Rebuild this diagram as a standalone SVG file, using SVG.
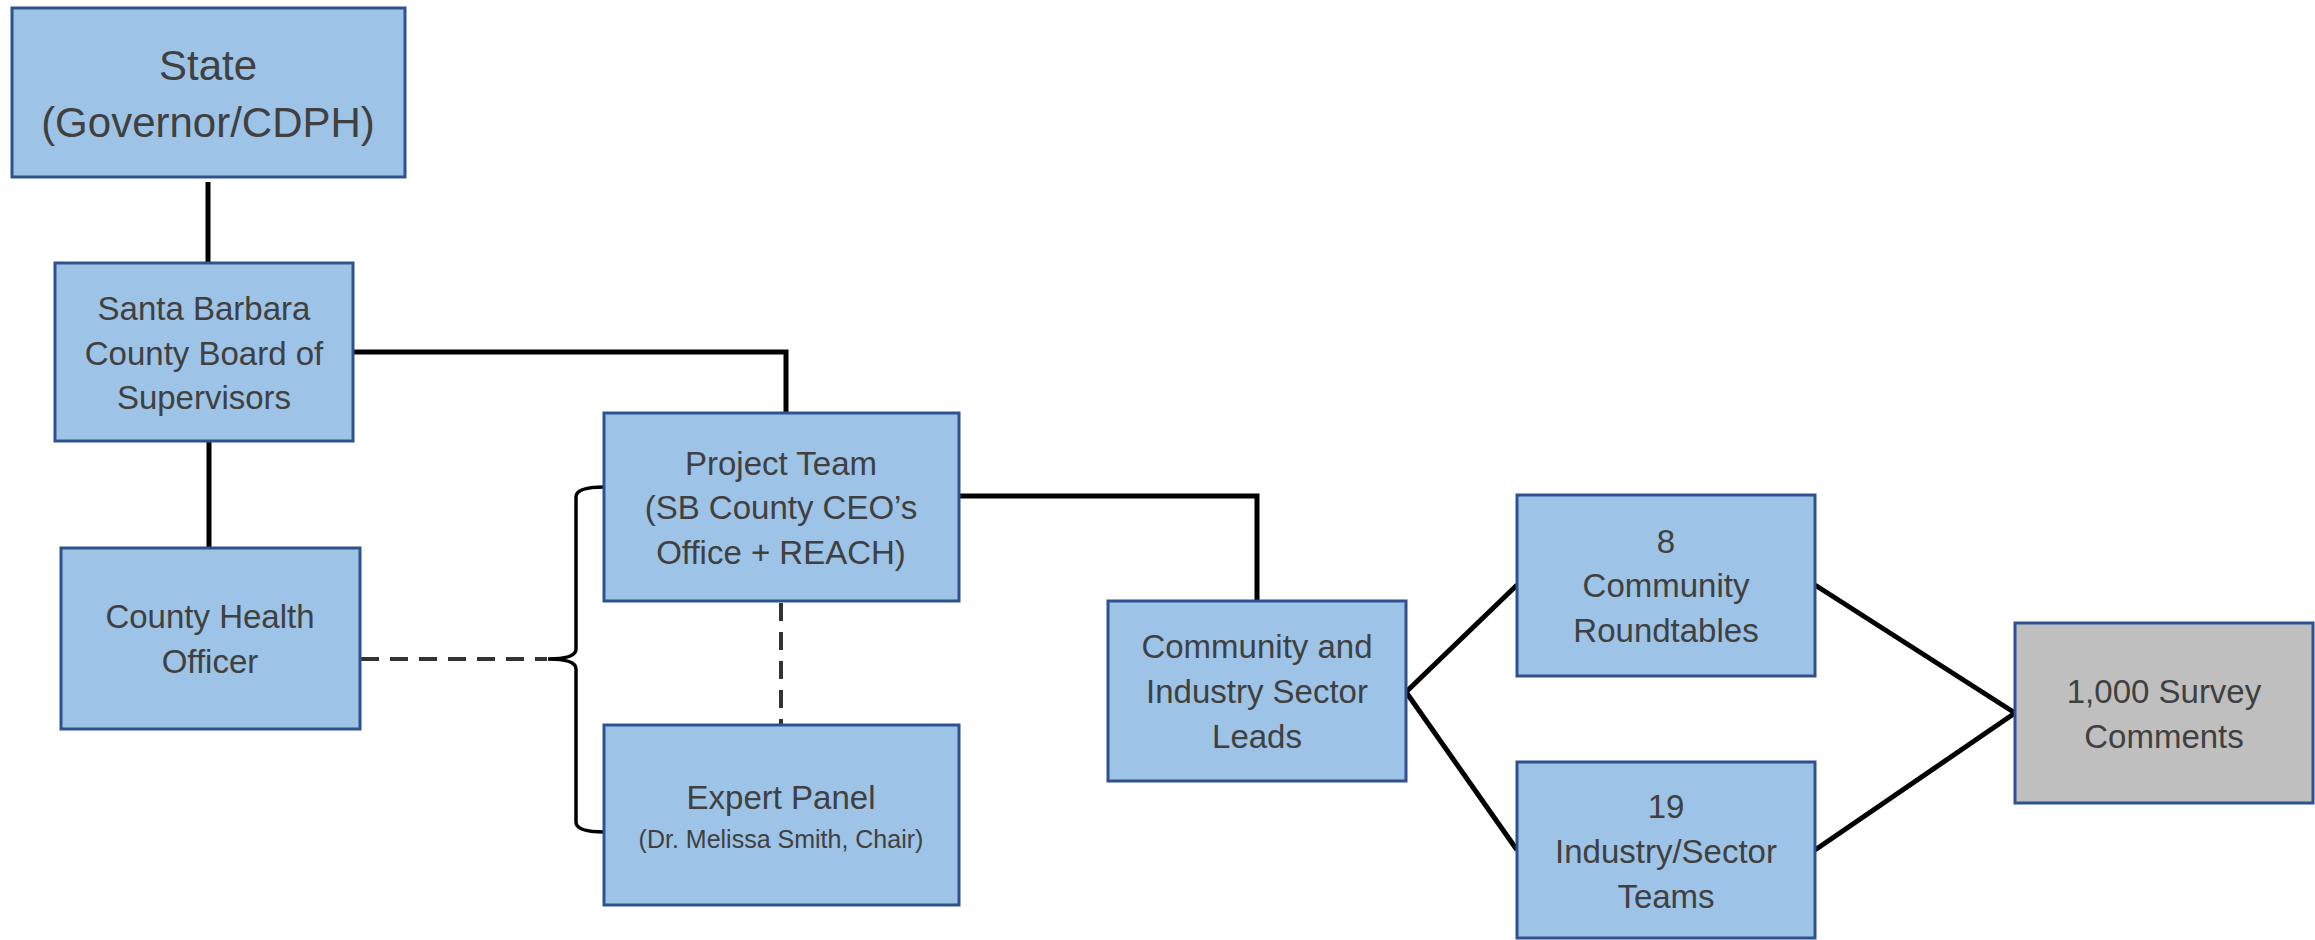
<svg xmlns="http://www.w3.org/2000/svg" width="2315" height="940" viewBox="0 0 2315 940">
<style>
.box{fill:#9dc3e6;stroke:#2f528f;stroke-width:3}
.grey{fill:#bfbfbf;stroke:#2f528f;stroke-width:3}
text{font-family:"Liberation Sans",Arial,sans-serif;fill:#404040;text-anchor:middle;font-size:33px}
.big{font-size:42px}
.small{font-size:25px}
.solid{fill:none;stroke:#000;stroke-width:5}
.dash{fill:none;stroke:#333;stroke-width:4;stroke-dasharray:18,11}
.brace{fill:none;stroke:#000;stroke-width:3.5}
</style>
<rect width="2315" height="940" fill="#fff"/>
<g id="connectors">
<path class="solid" d="M208,182 V263"/>
<path class="solid" d="M209,441 V548"/>
<path class="solid" d="M354,352 H786 V413"/>
<path class="solid" d="M959,496 H1257 V601"/>
<path class="solid" d="M1406,692 L1517,585"/>
<path class="solid" d="M1406,692 L1517,850"/>
<path class="solid" d="M1815,585 L2015,713"/>
<path class="solid" d="M1815,850 L2015,713"/>
<path class="dash" d="M781,603 V725"/>
<path class="dash" d="M361,659 H547"/>
<path class="brace" d="M604,487 Q576,487 576,497 V649 Q576,659 548,659 Q576,659 576,669 V822 Q576,832 604,832"/>
</g>
<g id="state">
<rect class="box" x="12" y="8" width="393" height="169"/>
<text class="big" x="208" y="80">State</text>
<text class="big" x="208" y="137">(Governor/CDPH)</text>
</g>
<g id="board">
<rect class="box" x="55" y="263" width="298" height="178"/>
<text x="204" y="320">Santa Barbara</text>
<text x="204" y="365">County Board of</text>
<text x="204" y="409">Supervisors</text>
</g>
<g id="health-officer">
<rect class="box" x="61" y="548" width="299" height="181"/>
<text x="210" y="628">County Health</text>
<text x="210" y="673">Officer</text>
</g>
<g id="project-team">
<rect class="box" x="604" y="413" width="355" height="188"/>
<text x="781" y="475">Project Team</text>
<text x="781" y="519">(SB County CEO’s</text>
<text x="781" y="564">Office + REACH)</text>
</g>
<g id="expert-panel">
<rect class="box" x="604" y="725" width="355" height="180"/>
<text x="781" y="809">Expert Panel</text>
<text class="small" x="781" y="848">(Dr. Melissa Smith, Chair)</text>
</g>
<g id="sector-leads">
<rect class="box" x="1108" y="601" width="298" height="180"/>
<text x="1257" y="658">Community and</text>
<text x="1257" y="703">Industry Sector</text>
<text x="1257" y="748">Leads</text>
</g>
<g id="roundtables">
<rect class="box" x="1517" y="495" width="298" height="181"/>
<text x="1666" y="553">8</text>
<text x="1666" y="597">Community</text>
<text x="1666" y="642">Roundtables</text>
</g>
<g id="sector-teams">
<rect class="box" x="1517" y="762" width="298" height="176"/>
<text x="1666" y="818">19</text>
<text x="1666" y="863">Industry/Sector</text>
<text x="1666" y="908">Teams</text>
</g>
<g id="survey">
<rect class="grey" x="2015" y="623" width="298" height="180"/>
<text x="2164" y="703">1,000 Survey</text>
<text x="2164" y="748">Comments</text>
</g>
</svg>
